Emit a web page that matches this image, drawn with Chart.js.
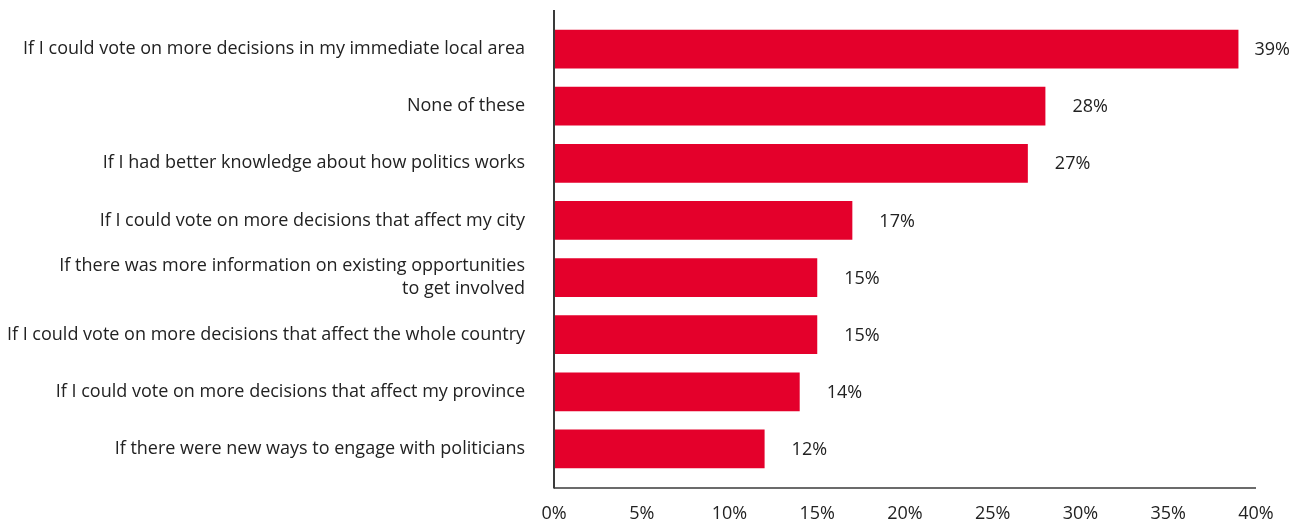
<!DOCTYPE html>
<html>
<head>
<meta charset="utf-8">
<script src="https://cdn.jsdelivr.net/npm/chart.js@4/dist/chart.umd.min.js"></script>
<style>
  html, body { margin: 0; padding: 0; background: #ffffff; }
  #wrap { width: 1309px; height: 524px; position: relative; }
</style>
</head>
<body>
<div id="wrap"><canvas id="c" width="1309" height="524"></canvas></div>
<script>
const categories = [
  'If I could vote on more decisions in my immediate local area',
  'None of these',
  'If I had better knowledge about how politics works',
  'If I could vote on more decisions that affect my city',
  ['If there was more information on existing opportunities', 'to get involved'],
  'If I could vote on more decisions that affect the whole country',
  'If I could vote on more decisions that affect my province',
  'If there were new ways to engage with politicians'
];
const values = [39, 28, 27, 17, 15, 15, 14, 12];
const xTicks = [0, 5, 10, 15, 20, 25, 30, 35, 40];

const FONT = '"Open Sans", "DejaVu Sans", sans-serif';
const TEXT = '#222222';
const RED = '#E4002B';
const AXIS = '#3a3a3a';

const axisAndLabels = {
  id: 'axisAndLabels',
  afterDatasetsDraw(chart) {
    const { ctx, chartArea } = chart;
    const meta = chart.getDatasetMeta(0);
    const maxV = Math.max(...values);
    ctx.save();
    ctx.strokeStyle = AXIS;
    ctx.lineWidth = 2;
    ctx.beginPath();
    ctx.moveTo(chartArea.left, chartArea.top - 10.5);
    ctx.lineTo(chartArea.left, chartArea.bottom + 11);
    ctx.stroke();
    ctx.lineWidth = 1.5;
    ctx.beginPath();
    ctx.moveTo(chartArea.left, chartArea.bottom + 10.5);
    ctx.lineTo(chartArea.right, chartArea.bottom + 10.5);
    ctx.stroke();
    ctx.font = '18px ' + FONT;
    ctx.fillStyle = TEXT;
    ctx.textAlign = 'left';
    ctx.textBaseline = 'middle';
    meta.data.forEach((bar, i) => {
      const v = values[i];
      const off = v === maxV ? 16 : 27;
      ctx.fillText(v + '%', bar.x + off, bar.y + 1);
    });
    ctx.restore();
  }
};

new Chart(document.getElementById('c'), {
  type: 'bar',
  data: {
    labels: categories,
    datasets: [{
      data: values,
      backgroundColor: RED,
      borderWidth: 0,
      barPercentage: 0.68,
      categoryPercentage: 1.0
    }]
  },
  options: {
    indexAxis: 'y',
    responsive: false,
    animation: false,
    devicePixelRatio: 1,
    layout: { padding: { top: 20.5, right: 53, left: 0, bottom: 0 } },
    plugins: { legend: { display: false }, tooltip: { enabled: false } },
    scales: {
      x: {
        type: 'linear',
        min: 0, max: 40,
        afterBuildTicks(scale) { scale.ticks = xTicks.map(v => ({ value: v })); },
        afterFit(scale) { scale.height = 46.5; scale.paddingLeft = 0; scale.paddingRight = 0; },
        grid: { display: false, drawTicks: false },
        border: { display: false },
        ticks: {
          padding: 26,
          color: TEXT,
          font: { family: FONT, size: 18 },
          maxRotation: 0,
          callback: v => v + '%'
        }
      },
      y: {
        afterFit(scale) { scale.width = 554; scale.paddingTop = 0; scale.paddingBottom = 0; },
        grid: { display: false, drawTicks: false },
        border: { display: false },
        ticks: {
          padding: 29,
          color: TEXT,
          autoSkip: false,
          font: { family: FONT, size: 18, lineHeight: 1.28 }
        }
      }
    }
  },
  plugins: [axisAndLabels]
});
</script>
</body>
</html>
